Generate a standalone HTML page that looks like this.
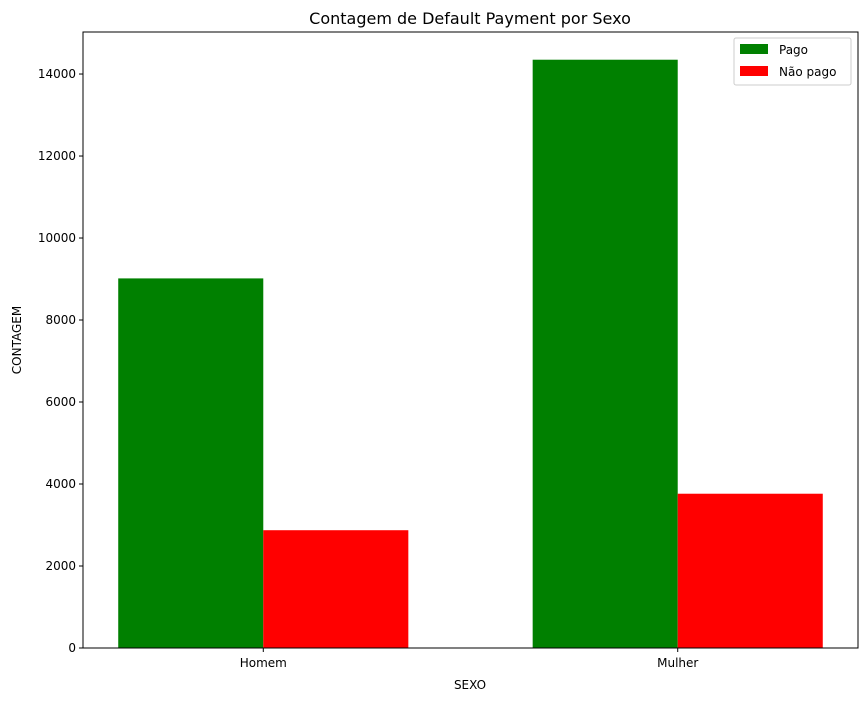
<!DOCTYPE html>
<html><head><meta charset="utf-8">
<style>
body{margin:0;background:#fff;font-family:"Liberation Sans","DejaVu Sans",sans-serif;}
svg text{font-family:"DejaVu Sans","Liberation Sans",sans-serif;}
</style></head>
<body>
<svg id="chart" width="868" height="701" xmlns="http://www.w3.org/2000/svg">
<rect width="868" height="701" fill="#fff"/>
<text x="470" y="24" font-size="16" text-anchor="middle">Contagem de Default Payment por Sexo</text>
<g id="bars"></g>
<g id="axes"></g>
<rect x="83" y="32" width="775" height="616" fill="none" stroke="#000" stroke-width="1"/>
<text x="470" y="689" font-size="12" text-anchor="middle">SEXO</text>
<text x="21" y="340" font-size="12" text-anchor="middle" transform="rotate(-90 21 340)">CONTAGEM</text>
<g>
<rect x="734" y="38" width="117" height="47" fill="#fff" stroke="#ccc" rx="2"/>
<g><rect x="740" y="44" width="28" height="10" fill="green"/><text x="779" y="54" font-size="12">Pago</text></g>
<g><rect x="740" y="66" width="28" height="10" fill="red"/><text x="779" y="76" font-size="12">Não pago</text></g>
</g>
</svg>
<script>
const categories=["Homem","Mulher"];
const pago=[9015,14349];
const naoPago=[2873,3763];
const yTicks=[0,2000,4000,6000,8000,10000,12000,14000];
const NS="http://www.w3.org/2000/svg";
const L=83,R=858,T=32,B=648;
const xMin=-0.435,xMax=1.435,yMax=15025;
const xs=v=>L+(v-xMin)/(xMax-xMin)*(R-L);
const ys=v=>B-v/yMax*(B-T);
const bw=0.35;
const bars=document.getElementById('bars'),axes=document.getElementById('axes');
function mk(tag,attrs,parent){const e=document.createElementNS(NS,tag);for(const k in attrs)e.setAttribute(k,attrs[k]);parent.appendChild(e);return e;}
categories.forEach((c,i)=>{
  const g=mk('rect',{x:xs(i-bw),y:ys(pago[i]),width:xs(i)-xs(i-bw),height:B-ys(pago[i]),fill:'green'},bars);
  
  
  const r=mk('rect',{x:xs(i),y:ys(naoPago[i]),width:xs(i+bw)-xs(i),height:B-ys(naoPago[i]),fill:'red'},bars);
  
  
  mk('line',{x1:xs(i),x2:xs(i),y1:B,y2:B+4,stroke:'#000'},axes);
  const t=mk('text',{x:xs(i),y:B+19,'font-size':12,'text-anchor':'middle'},axes);
  t.textContent=c;
  
  
});
yTicks.forEach(v=>{
  mk('line',{x1:L-4,x2:L,y1:ys(v),y2:ys(v),stroke:'#000'},axes);
  const t=mk('text',{x:L-7,y:ys(v)+4,'font-size':12,'text-anchor':'end'},axes);
  t.textContent=v;
  
  
});
</script>
</body></html>
